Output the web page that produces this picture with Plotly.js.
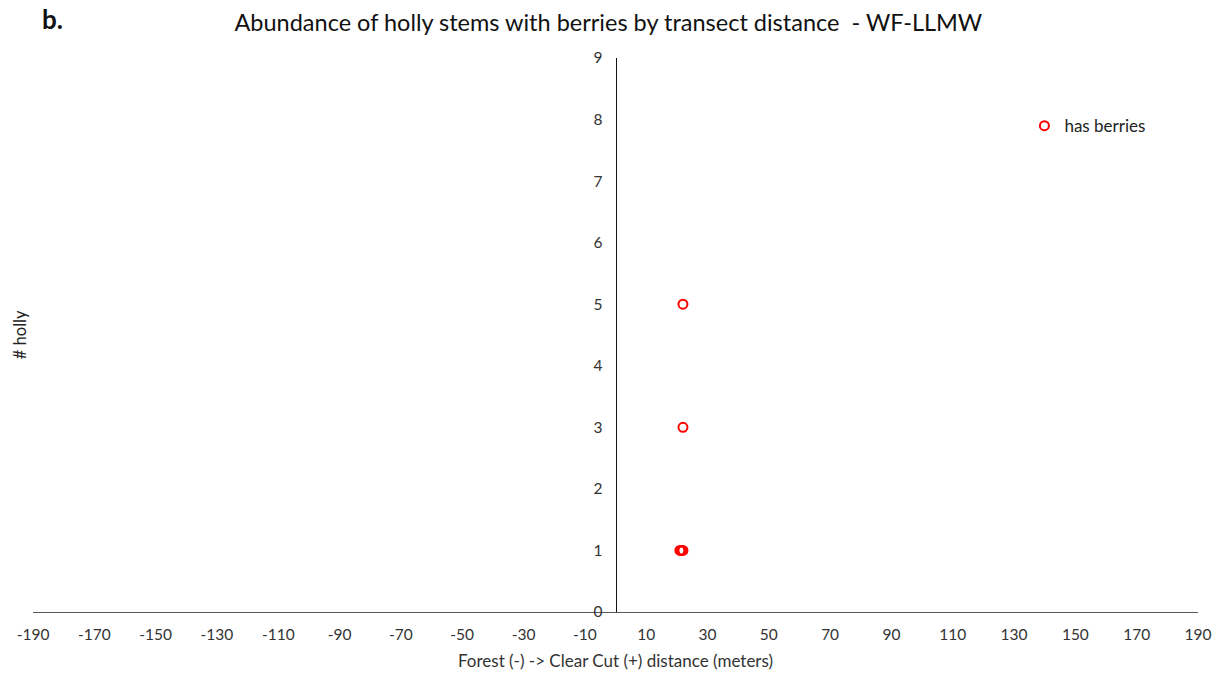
<!DOCTYPE html>
<html>
<head>
<meta charset="utf-8">
<script src="https://cdn.plot.ly/plotly-3.0.1.min.js"></script>
<style>html,body{margin:0;padding:0;background:#fff}#chart{width:1224px;height:675px}</style>
</head>
<body>
<div id="chart"></div>
<script>
const distance = [21, 21.5, 22, 22, 22];
const hollyCount = [1, 1, 1, 3, 5];
const seriesName = "has berries";
const xTicks = [-190,-170,-150,-130,-110,-90,-70,-50,-30,-10,10,30,50,70,90,110,130,150,170,190];

const font = "Lato, 'Open Sans', sans-serif";
const trace = {
  x: distance, y: hollyCount, mode: 'markers', type: 'scatter', name: seriesName,
  marker: {symbol: 'circle-open', size: 9, color: '#ff0000', line: {width: 2, color: '#ff0000'}}
};
const layout = {
  width: 1224, height: 675,
  margin: {l: 33, r: 26, t: 58, b: 63},
  paper_bgcolor: '#fff', plot_bgcolor: '#fff',
  font: {family: font, size: 15, color: '#333'},
  title: {text: 'Abundance of holly stems with berries by transect distance  - WF-LLMW', x: 0.497, xanchor: 'center', y: 0.967, yanchor: 'middle', font: {size: 23.5, color: '#111', family: font}},
  showlegend: true,
  legend: {x: 0.851, xanchor: 'left', y: 0.877, yanchor: 'middle', font: {size: 17, color: '#222'}, bgcolor: 'rgba(0,0,0,0)', itemwidth: 30},
  xaxis: {
    range: [-190, 190], tickvals: xTicks, ticktext: xTicks.map(String),
    showgrid: false, zeroline: false, showline: true, linecolor: '#595959', linewidth: 1,
    ticks: '', tickfont: {size: 15.5, color: '#333'}, ticklabelstandoff: 8,
    title: {text: 'Forest (-) -> Clear Cut (+) distance (meters)', font: {size: 17, color: '#333'}, standoff: 13}
  },
  yaxis: {
    range: [0, 9], dtick: 1, tick0: 0, anchor: 'free', position: 0.5,
    showgrid: false, zeroline: false, showline: true, linecolor: '#111', linewidth: 1,
    ticks: '', tickfont: {size: 15.5, color: '#333'}, ticklabelstandoff: 10
  },
  annotations: [
    {text: '# holly', xref: 'paper', yref: 'paper', x: -0.011, y: 0.5, xanchor: 'center', yanchor: 'middle', textangle: -90, showarrow: false, font: {size: 16.5, color: '#222'}},
    {text: '<b>b.</b>', xref: 'paper', yref: 'paper', x: 0.006, y: 1.07, xanchor: 'left', yanchor: 'middle', showarrow: false, font: {size: 26, color: '#111'}}
  ]
};
Plotly.newPlot('chart', [trace], layout, {displayModeBar: false});
</script>
</body>
</html>
